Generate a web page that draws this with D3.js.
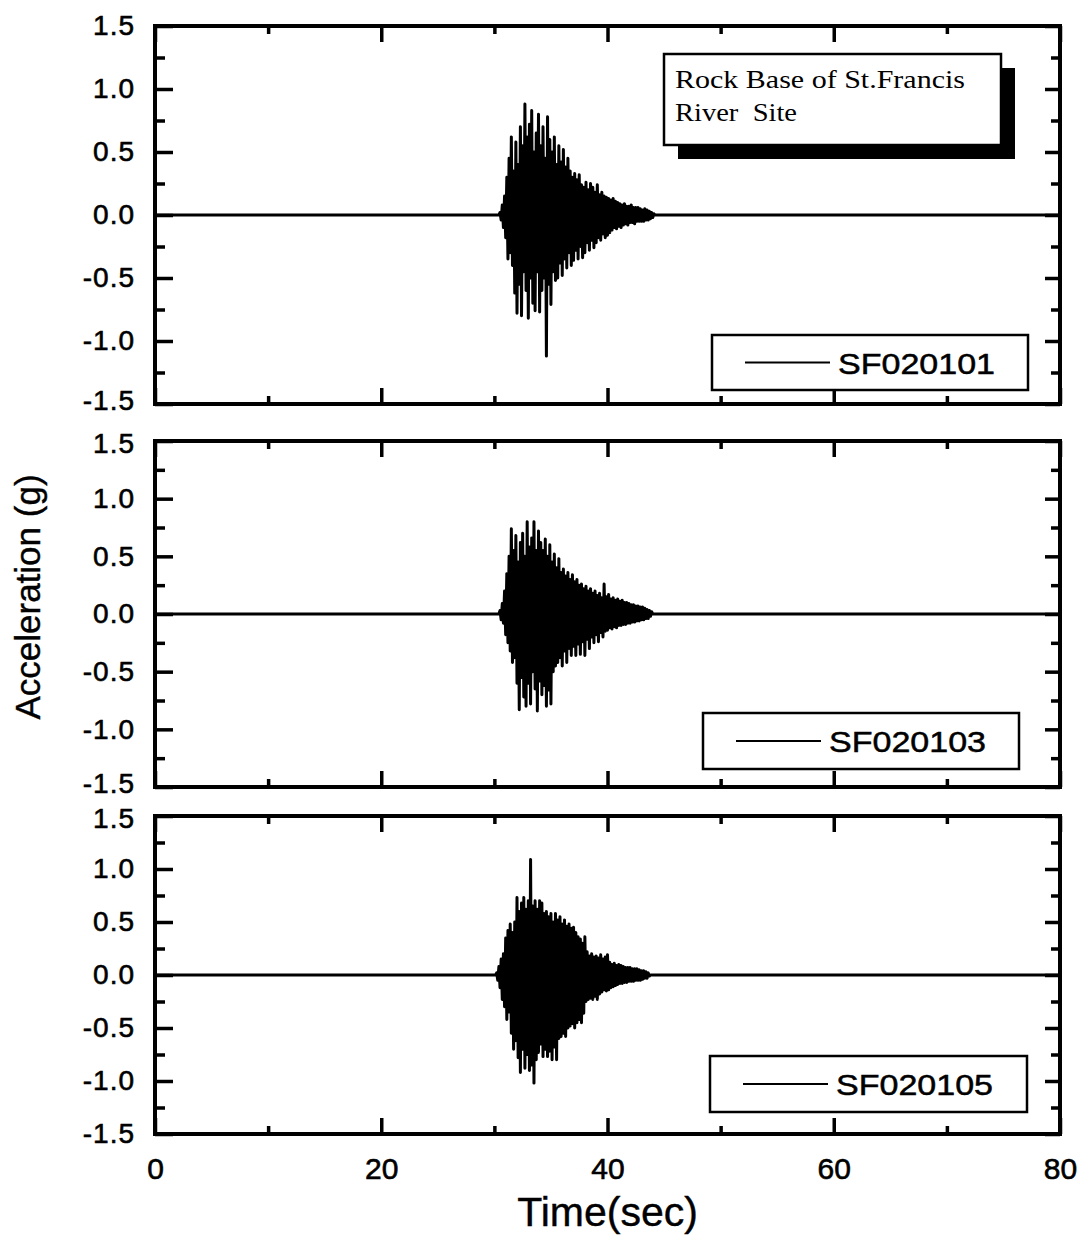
<!DOCTYPE html>
<html>
<head>
<meta charset="utf-8">
<script src="https://cdn.jsdelivr.net/npm/d3@7"></script>
<style>
  html, body { margin: 0; padding: 0; background: #fff; }
  svg { display: block; }
</style>
</head>
<body>
<svg id="chart" width="1088" height="1238"></svg>
<script>
// ---- data -------------------------------------------------------------
// Record length and sampling of the strong-motion window (seconds)
const recordStart = 0;
const recordEnd = 80;
const sampleStep = 0.1;

// Series names, first sample time of each strong-motion window
const seriesNames = ["SF020101", "SF020103", "SF020105"];
const seriesStart = [30.5, 30.5, 30.2];

// Acceleration (g), sampled every 0.1 s from seriesStart
const accSF020101 = [
  0.02, -0.04, 0.08, -0.10, 0.15, -0.18, 0.30, -0.35, 0.45, -0.30,
  0.62, -0.40, 0.35, -0.62, 0.58, -0.78, 0.40, -0.55, 0.70, -0.80,
  0.55, -0.45, 0.88, -0.60, 0.62, -0.82, 0.72, -0.50, 0.83, -0.70,
  0.50, -0.76, 0.65, -0.45, 0.80, -0.77, 0.55, -0.60, 0.70, -0.50,
  0.45, -1.12, 0.78, -0.55, 0.60, -0.71, 0.50, -0.45, 0.62, -0.52,
  0.40, -0.50, 0.55, -0.38, 0.42, -0.48, 0.52, -0.35, 0.38, -0.42,
  0.45, -0.30, 0.35, -0.40, 0.30, -0.36, 0.33, -0.28, 0.28, -0.35,
  0.32, -0.25, 0.24, -0.34, 0.22, -0.30, 0.26, -0.22, 0.20, -0.28,
  0.25, -0.20, 0.22, -0.26, 0.18, -0.22, 0.24, -0.18, 0.16, -0.20,
  0.18, -0.15, 0.15, -0.18, 0.14, -0.16, 0.13, -0.14, 0.12, -0.12,
  0.13, -0.10, 0.11, -0.11, 0.10, -0.09, 0.09, -0.10, 0.08, -0.08,
  0.09, -0.07, 0.07, -0.08, 0.07, -0.06, 0.08, -0.06, 0.06, -0.07,
  0.06, -0.05, 0.06, -0.05, 0.05, -0.05, 0.04, -0.05, 0.05, -0.04,
  0.04, -0.04, 0.03, -0.03, 0.02, -0.02, 0.01
];
const accSF020103 = [
  0.03, -0.05, 0.09, -0.08, 0.20, -0.18, 0.35, -0.25, 0.50, -0.32,
  0.74, -0.42, 0.55, -0.38, 0.68, -0.60, 0.45, -0.83, 0.62, -0.55,
  0.70, -0.72, 0.50, -0.80, 0.80, -0.60, 0.58, -0.78, 0.66, -0.50,
  0.80, -0.65, 0.55, -0.84, 0.72, -0.58, 0.62, -0.70, 0.55, -0.62,
  0.65, -0.80, 0.50, -0.66, 0.60, -0.78, 0.45, -0.50, 0.52, -0.45,
  0.40, -0.42, 0.48, -0.38, 0.36, -0.45, 0.39, -0.32, 0.33, -0.42,
  0.36, -0.30, 0.30, -0.36, 0.34, -0.28, 0.28, -0.36, 0.30, -0.26,
  0.25, -0.35, 0.26, -0.24, 0.22, -0.36, 0.24, -0.22, 0.20, -0.30,
  0.22, -0.20, 0.18, -0.25, 0.20, -0.18, 0.16, -0.24, 0.18, -0.16,
  0.14, -0.20, 0.26, -0.15, 0.15, -0.14, 0.17, -0.12, 0.13, -0.13,
  0.14, -0.11, 0.12, -0.12, 0.13, -0.10, 0.11, -0.10, 0.12, -0.09,
  0.10, -0.09, 0.10, -0.08, 0.09, -0.08, 0.08, -0.07, 0.08, -0.07,
  0.07, -0.06, 0.07, -0.06, 0.06, -0.05, 0.06, -0.05, 0.05, -0.04,
  0.04, -0.04, 0.03, -0.02, 0.02
];
const accSF020105 = [
  0.02, -0.05, 0.08, -0.12, 0.15, -0.23, 0.20, -0.30, 0.35, -0.42,
  0.42, -0.35, 0.48, -0.55, 0.40, -0.70, 0.50, -0.62, 0.73, -0.78,
  0.60, -0.92, 0.68, -0.70, 0.73, -0.88, 0.62, -0.75, 0.70, -0.90,
  1.09, -0.85, 0.65, -1.02, 0.70, -0.80, 0.62, -0.73, 0.70, -0.65,
  0.68, -0.77, 0.58, -0.70, 0.60, -0.77, 0.55, -0.72, 0.58, -0.80,
  0.50, -0.68, 0.58, -0.80, 0.52, -0.60, 0.55, -0.58, 0.48, -0.55,
  0.52, -0.58, 0.46, -0.50, 0.48, -0.48, 0.44, -0.46, 0.45, -0.50,
  0.40, -0.45, 0.36, -0.42, 0.34, -0.45, 0.30, -0.36, 0.36, -0.25,
  0.22, -0.23, 0.18, -0.22, 0.20, -0.23, 0.17, -0.20, 0.18, -0.23,
  0.16, -0.18, 0.19, -0.16, 0.15, -0.14, 0.17, -0.15, 0.19, -0.14,
  0.12, -0.12, 0.10, -0.11, 0.11, -0.10, 0.09, -0.09, 0.10, -0.08,
  0.09, -0.08, 0.08, -0.07, 0.07, -0.07, 0.07, -0.06, 0.07, -0.06,
  0.06, -0.06, 0.06, -0.05, 0.06, -0.05, 0.05, -0.05, 0.04, -0.04,
  0.04, -0.03, 0.03, -0.03, 0.02, -0.01
];
const seriesValues = [accSF020101, accSF020103, accSF020105];

// Axis ticks
const xMajorTicks = [0, 20, 40, 60, 80];
const xMinorTicks = [10, 30, 50, 70];
const yMajorTicks = [-1.5, -1.0, -0.5, 0.0, 0.5, 1.0, 1.5];
const yMinorTicks = [-1.25, -0.75, -0.25, 0.25, 0.75, 1.25];

// Titles and annotation
const xTitle = "Time(sec)";
const yTitle = "Acceleration (g)";
const noteLines = ["Rock Base of St.Francis", "River  Site"];

// ---- layout -----------------------------------------------------------
const sans = "'Liberation Sans', Arial, sans-serif";
const serif = "'Liberation Serif', 'Times New Roman', serif";
const svg = d3.select("#chart");
const plotLeft = 155, plotRight = 1060;
const panels = [
  { top: 26, bottom: 404, legend: { x: 712, y: 335, w: 316, h: 55 } },
  { top: 441, bottom: 787, legend: { x: 703, y: 713, w: 316, h: 56 } },
  { top: 816, bottom: 1134, legend: { x: 710, y: 1056, w: 317, h: 56 } }
];

const x = d3.scaleLinear().domain([recordStart, recordEnd]).range([plotLeft, plotRight]);

function buildTrace(startT, values) {
  const pts = [[recordStart, 0], [startT - sampleStep, 0]];
  values.forEach((v, i) => pts.push([startT + i * sampleStep, v]));
  pts.push([startT + values.length * sampleStep, 0]);
  pts.push([recordEnd, 0]);
  return pts;
}

panels.forEach((p, i) => {
  const y = d3.scaleLinear().domain([-1.5, 1.5]).range([p.bottom, p.top]);
  const g = svg.append("g");

  // trace
  const line = d3.line().x(d => x(d[0])).y(d => y(d[1]));
  g.append("path")
    .datum(buildTrace(seriesStart[i], seriesValues[i]))
    .attr("d", line)
    .attr("fill", "none")
    .attr("stroke", "#000")
    .attr("stroke-width", 3)
    .attr("stroke-linejoin", "round");

  // inward ticks on all four sides
  const tickStyle = sel => {
    sel.select(".domain").remove();
    sel.selectAll(".tick line").attr("stroke", "#000").attr("stroke-width", 3.5);
  };
  const left = g.append("g").attr("transform", `translate(${plotLeft},0)`)
    .call(d3.axisLeft(y).tickValues(yMajorTicks).tickSize(-18).tickPadding(20)
      .tickFormat(d3.format(".1f")))
    .call(tickStyle);
  left.selectAll(".tick text")
    .style("font-family", sans)
    .style("font-size", "28px")
    .attr("letter-spacing", 1)
    .attr("fill", "#000")
    .attr("stroke", "#000").attr("stroke-width", 0.6)
    // nudge the extreme labels where two panels meet
    .attr("dy", d => d === -1.5 && i < panels.length - 1 ? "0.2em"
      : d === 1.5 && i > 0 ? "0.42em" : "0.32em")
    .text(d => d3.format(".1f")(d).replace("−", "-"));
  g.append("g").attr("transform", `translate(${plotLeft},0)`)
    .call(d3.axisLeft(y).tickValues(yMinorTicks).tickSize(-10).tickFormat(""))
    .call(tickStyle);
  g.append("g").attr("transform", `translate(${plotRight},0)`)
    .call(d3.axisRight(y).tickValues(yMajorTicks).tickSize(-15).tickFormat(""))
    .call(tickStyle);
  g.append("g").attr("transform", `translate(${plotRight},0)`)
    .call(d3.axisRight(y).tickValues(yMinorTicks).tickSize(-9).tickFormat(""))
    .call(tickStyle);
  g.append("g").attr("transform", `translate(0,${p.top})`)
    .call(d3.axisTop(x).tickValues(xMajorTicks).tickSize(-16).tickFormat(""))
    .call(tickStyle);
  g.append("g").attr("transform", `translate(0,${p.top})`)
    .call(d3.axisTop(x).tickValues(xMinorTicks).tickSize(-8).tickFormat(""))
    .call(tickStyle);
  const bottom = g.append("g").attr("transform", `translate(0,${p.bottom})`)
    .call(d3.axisBottom(x).tickValues(xMajorTicks).tickSize(-16).tickPadding(24)
      .tickFormat(i === panels.length - 1 ? d3.format("d") : ""))
    .call(tickStyle);
  bottom.selectAll(".tick text")
    .style("font-family", sans)
    .style("font-size", "30px")
    .attr("fill", "#000")
    .attr("stroke", "#000").attr("stroke-width", 0.6);
  g.append("g").attr("transform", `translate(0,${p.bottom})`)
    .call(d3.axisBottom(x).tickValues(xMinorTicks).tickSize(-8).tickFormat(""))
    .call(tickStyle);

  // frame
  g.append("rect")
    .attr("x", plotLeft).attr("y", p.top)
    .attr("width", plotRight - plotLeft).attr("height", p.bottom - p.top)
    .attr("fill", "none").attr("stroke", "#000").attr("stroke-width", 4);

  // legend
  const L = p.legend;
  const lg = g.append("g").attr("transform", `translate(${L.x},${L.y})`);
  lg.append("rect").attr("width", L.w).attr("height", L.h)
    .attr("fill", "#fff").attr("stroke", "#000").attr("stroke-width", 2.5);
  lg.append("line").attr("x1", 33).attr("x2", 118)
    .attr("y1", L.h / 2).attr("y2", L.h / 2)
    .attr("stroke", "#000").attr("stroke-width", 2);
  lg.append("text").attr("x", 126).attr("y", L.h / 2 + 11)
    .style("font-family", sans)
    .style("font-size", "29px")
    .attr("textLength", 157).attr("lengthAdjust", "spacingAndGlyphs")
    .attr("fill", "#000")
    .attr("stroke", "#000").attr("stroke-width", 0.5)
    .text(seriesNames[i]);
});

// site annotation with drop shadow
const note = svg.append("g").attr("transform", "translate(664,54)");
note.append("rect").attr("x", 14).attr("y", 14).attr("width", 337).attr("height", 91).attr("fill", "#000");
note.append("rect").attr("width", 337).attr("height", 91)
  .attr("fill", "#fff").attr("stroke", "#000").attr("stroke-width", 2.5);
note.selectAll("text.note").data(noteLines).join("text")
  .attr("class", "note")
  .attr("x", 11).attr("y", (d, k) => 34 + k * 33)
  .style("font-family", serif)
  .style("font-size", "25px")
  .style("white-space", "pre")
  .attr("xml:space", "preserve")
  .attr("fill", "#000")
  .attr("textLength", (d, k) => k === 0 ? 290 : 122)
  .attr("lengthAdjust", "spacingAndGlyphs")
  .text(d => d);

// axis titles
svg.append("text")
  .attr("transform", "translate(40,597) rotate(-90)")
  .attr("text-anchor", "middle")
  .style("font-family", sans)
  .style("font-size", "35px")
  .attr("fill", "#000")
  .attr("stroke", "#000").attr("stroke-width", 0.4)
  .text(yTitle);
svg.append("text")
  .attr("x", (plotLeft + plotRight) / 2).attr("y", 1226)
  .attr("text-anchor", "middle")
  .style("font-family", sans)
  .style("font-size", "41px")
  .attr("fill", "#000")
  .attr("stroke", "#000").attr("stroke-width", 0.4)
  .text(xTitle);
</script>
</body>
</html>
